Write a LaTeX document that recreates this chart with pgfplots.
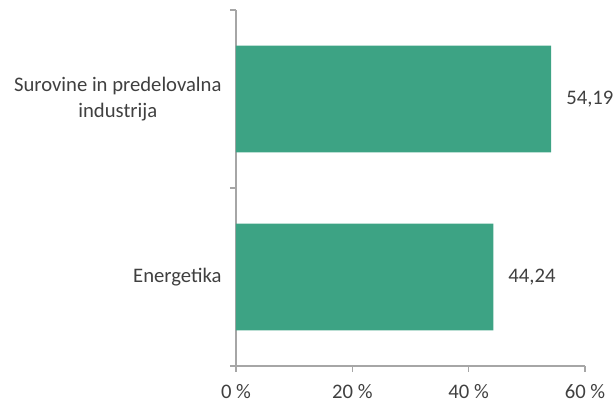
\documentclass[border=0pt]{standalone}
\usepackage{pgfplots}
\pgfplotsset{compat=1.18}
\usepackage{fontspec}
\setmainfont{Carlito}
\definecolor{barcol}{HTML}{3DA384}
\definecolor{axcol}{HTML}{A6A6A6}
\definecolor{txt}{HTML}{404040}
\begin{document}
\fontsize{15.5}{19}\selectfont
\begin{tikzpicture}[x=0.75pt,y=0.75pt]
\useasboundingbox (-236,-37) rectangle (379,366);
\begin{axis}[
    at={(0,0)}, anchor=south west,
    xbar,
    scale only axis,
    width=261.75pt, height=267pt,
    xmin=0, xmax=60,
    ymin=-0.5, ymax=1.5,
    bar width=0.6,
    axis x line*=bottom,
    axis y line*=left,
    axis line style={axcol, line width=1.1pt},
    xtick={0,20,40,60},
    xticklabel={\pgfmathprintnumber{\tick}\ \%},
    xticklabel style={yshift=-4pt},
    tick align=outside,
    major tick length=4.5pt,
    minor tick length=4.5pt,
    xtick style={draw=axcol, line width=1.1pt},
    ytick={0,1},
    yticklabels={Energetika,{Surovine in predelovalna\\industrija}},
    yticklabel style={align=center, xshift=-1pt},
    major y tick style={draw=none},
    minor ytick={-0.5,0.5,1.5},
    minor y tick style={draw=axcol, line width=1.1pt},
    tick label style={font=\fontsize{15.5}{19}\selectfont, text=txt},
    /pgf/number format/assume math mode=true,
    nodes near coords,
    nodes near coords style={text=txt, font=\fontsize{15.5}{19}\selectfont, xshift=6pt,
        /pgf/number format/.cd, fixed, precision=2, fixed zerofill, use comma},
    clip=false,
]
\addplot[fill=barcol, draw=none] coordinates {(44.24,0) (54.19,1)};
\end{axis}
\end{tikzpicture}
\end{document}
